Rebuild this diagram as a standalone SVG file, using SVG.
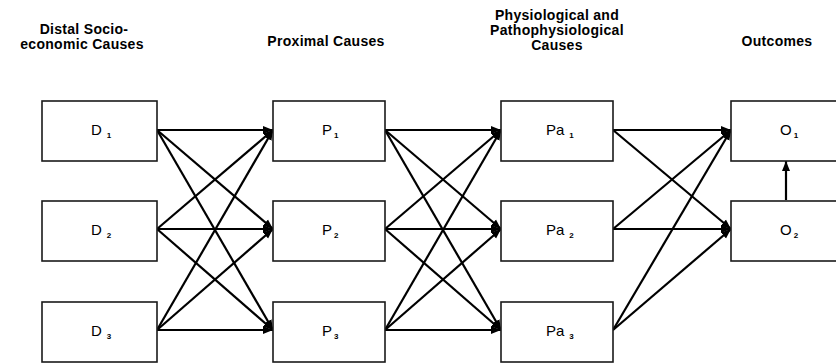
<svg xmlns="http://www.w3.org/2000/svg" width="836" height="363" viewBox="0 0 836 363">
<style>
.box{fill:#fff;stroke:#1a1a1a;stroke-width:1.6}
.hdr{font-family:"Liberation Sans",Arial,sans-serif;font-size:14px;font-weight:bold;text-anchor:middle;fill:#000;letter-spacing:0.3px}
.lbl{font-family:"Liberation Sans",Arial,sans-serif;font-size:15px;fill:#000}
.sub{font-size:8px;font-weight:bold}
.c{stroke:#000;stroke-width:2.2;fill:none;marker-end:url(#ah)}
</style>
<defs>
<marker id="ah" markerUnits="userSpaceOnUse" markerWidth="11" markerHeight="10" refX="10" refY="5" orient="auto">
<path d="M0,1 L10,5 L0,9 Z" fill="#000"/>
</marker>
</defs>
<rect width="836" height="363" fill="#fff"/>
<g id="headers">
<text class="hdr" x="84" y="34">Distal Socio-</text>
<text class="hdr" x="82" y="49">economic Causes</text>
<text class="hdr" x="326" y="46">Proximal Causes</text>
<text class="hdr" x="557" y="20">Physiological and</text>
<text class="hdr" x="557" y="35">Pathophysiological</text>
<text class="hdr" x="557" y="50">Causes</text>
<text class="hdr" x="777" y="46">Outcomes</text>
</g>
<g id="connectors">
<line class="c" x1="157" y1="130" x2="273" y2="130"/>
<line class="c" x1="157" y1="130" x2="273" y2="229"/>
<line class="c" x1="157" y1="130" x2="273" y2="330"/>
<line class="c" x1="157" y1="229" x2="273" y2="130"/>
<line class="c" x1="157" y1="229" x2="273" y2="229"/>
<line class="c" x1="157" y1="229" x2="273" y2="330"/>
<line class="c" x1="157" y1="330" x2="273" y2="130"/>
<line class="c" x1="157" y1="330" x2="273" y2="229"/>
<line class="c" x1="157" y1="330" x2="273" y2="330"/>
<line class="c" x1="385" y1="130" x2="501" y2="130"/>
<line class="c" x1="385" y1="130" x2="501" y2="229"/>
<line class="c" x1="385" y1="130" x2="501" y2="330"/>
<line class="c" x1="385" y1="229" x2="501" y2="130"/>
<line class="c" x1="385" y1="229" x2="501" y2="229"/>
<line class="c" x1="385" y1="229" x2="501" y2="330"/>
<line class="c" x1="385" y1="330" x2="501" y2="130"/>
<line class="c" x1="385" y1="330" x2="501" y2="229"/>
<line class="c" x1="385" y1="330" x2="501" y2="330"/>
<line class="c" x1="613" y1="130" x2="731" y2="130"/>
<line class="c" x1="613" y1="130" x2="731" y2="229"/>
<line class="c" x1="613" y1="229" x2="731" y2="130"/>
<line class="c" x1="613" y1="229" x2="731" y2="229"/>
<line class="c" x1="613" y1="330" x2="731" y2="130"/>
<line class="c" x1="613" y1="330" x2="731" y2="229"/>
<line class="c" x1="786" y1="200" x2="786" y2="161"/>
</g>
<g id="D1"><rect class="box" x="42" y="101" width="115" height="60"/><text class="lbl" x="91" y="135">D<tspan class="sub" dx="5" dy="3">1</tspan></text></g>
<g id="D2"><rect class="box" x="42" y="201" width="115" height="60"/><text class="lbl" x="91" y="235">D<tspan class="sub" dx="5" dy="3">2</tspan></text></g>
<g id="D3"><rect class="box" x="42" y="302" width="115" height="60"/><text class="lbl" x="91" y="336">D<tspan class="sub" dx="5" dy="3">3</tspan></text></g>
<g id="P1"><rect class="box" x="273" y="101" width="112" height="60"/><text class="lbl" x="322" y="135">P<tspan class="sub" dx="2" dy="3">1</tspan></text></g>
<g id="P2"><rect class="box" x="273" y="201" width="112" height="60"/><text class="lbl" x="322" y="235">P<tspan class="sub" dx="2" dy="3">2</tspan></text></g>
<g id="P3"><rect class="box" x="273" y="302" width="112" height="60"/><text class="lbl" x="322" y="336">P<tspan class="sub" dx="2" dy="3">3</tspan></text></g>
<g id="Pa1"><rect class="box" x="501" y="101" width="112" height="60"/><text class="lbl" x="546" y="135">Pa<tspan class="sub" dx="5" dy="3">1</tspan></text></g>
<g id="Pa2"><rect class="box" x="501" y="201" width="112" height="60"/><text class="lbl" x="546" y="235">Pa<tspan class="sub" dx="5" dy="3">2</tspan></text></g>
<g id="Pa3"><rect class="box" x="501" y="302" width="112" height="60"/><text class="lbl" x="546" y="336">Pa<tspan class="sub" dx="5" dy="3">3</tspan></text></g>
<g id="O1"><rect class="box" x="731" y="101" width="115" height="60"/><text class="lbl" x="780" y="135">O<tspan class="sub" dx="2" dy="3">1</tspan></text></g>
<g id="O2"><rect class="box" x="731" y="201" width="115" height="60"/><text class="lbl" x="780" y="235">O<tspan class="sub" dx="2" dy="3">2</tspan></text></g>
</svg>
